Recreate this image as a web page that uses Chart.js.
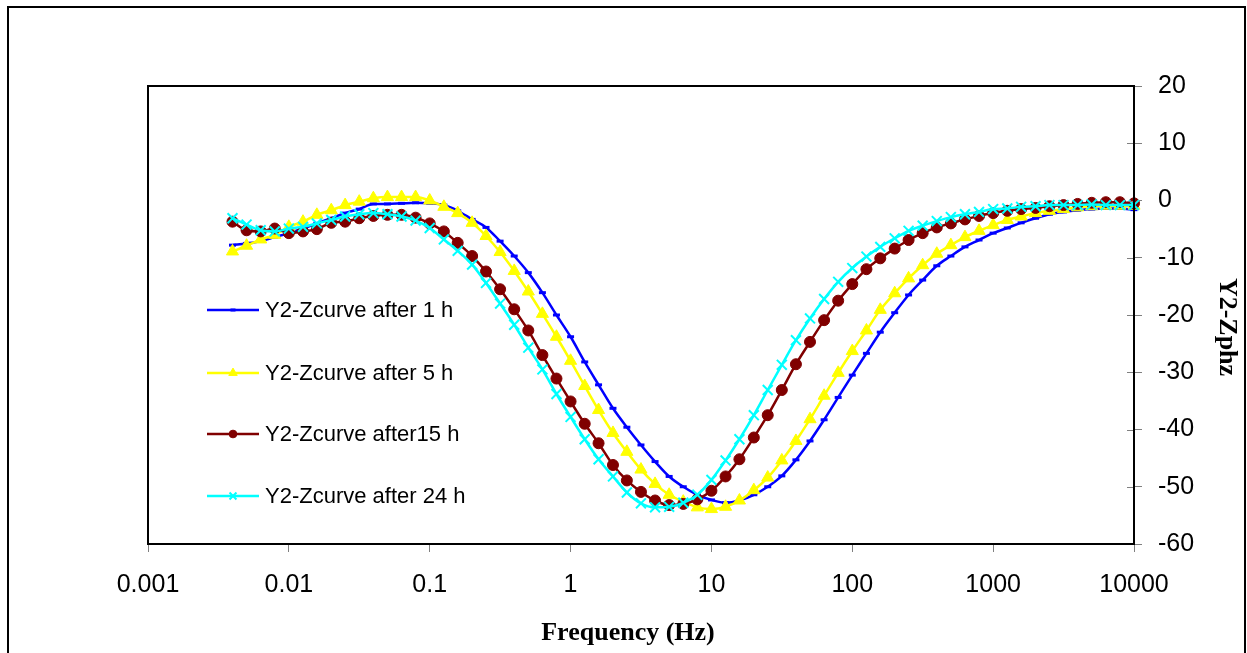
<!DOCTYPE html>
<html><head><meta charset="utf-8">
<script src="https://cdn.jsdelivr.net/npm/chart.js@4/dist/chart.umd.min.js"></script>
<style>html,body{margin:0;padding:0;background:#fff;overflow:hidden}#wrap{width:1247px;height:653px;position:relative}</style>
</head><body><div id="wrap"><canvas id="c" width="1247" height="653"></canvas></div>
<script>
const frequencies = [0.00398,0.00501,0.00631,0.00794,0.01,0.0126,0.0158,0.02,0.0251,0.0316,0.0398,0.0501,0.0631,0.0794,0.1,0.126,0.158,0.2,0.251,0.316,0.398,0.501,0.631,0.794,1,1.26,1.58,2,2.51,3.16,3.98,5.01,6.31,7.94,10,12.6,15.8,20,25.1,31.6,39.8,50.1,63.1,79.4,100,126,158,200,251,316,398,501,631,794,1000,1260,1580,2000,2510,3160,3980,5010,6310,7940,10000];
const after1h = [-7.8,-7.5,-7.1,-6.4,-5.7,-4.9,-4.0,-3.1,-2.2,-1.5,-0.6,-0.6,-0.5,-0.4,-0.5,-0.8,-1.8,-3.3,-4.7,-7.1,-9.7,-12.6,-16.1,-20.0,-23.8,-28.2,-32.2,-36.3,-39.6,-42.7,-45.6,-48.2,-50.0,-51.4,-52.3,-52.8,-52.4,-51.4,-50.0,-48.1,-45.3,-42.0,-38.3,-34.4,-30.5,-26.7,-23.0,-19.6,-16.5,-13.9,-11.4,-9.7,-8.1,-6.9,-5.7,-4.8,-3.9,-3.1,-2.4,-2.0,-1.7,-1.5,-1.4,-1.4,-1.6];
const after5h = [-8.9,-7.9,-6.8,-6.0,-4.6,-3.7,-2.5,-1.7,-0.8,-0.2,0.4,0.6,0.6,0.6,0.0,-1.1,-2.2,-3.9,-6.2,-9.0,-12.3,-15.9,-19.8,-23.8,-28.0,-32.4,-36.6,-40.6,-43.9,-47.0,-49.5,-51.4,-52.6,-53.6,-53.9,-53.5,-52.4,-50.6,-48.4,-45.4,-42.0,-38.2,-34.1,-30.1,-26.3,-22.7,-19.1,-16.2,-13.6,-11.3,-9.3,-7.8,-6.4,-5.3,-4.3,-3.4,-2.8,-2.2,-1.8,-1.5,-1.2,-1.0,-0.9,-0.9,-0.9];
const after15h = [-3.7,-5.2,-5.4,-4.9,-5.7,-5.4,-5.0,-3.9,-3.7,-3.1,-2.7,-2.5,-2.5,-3.0,-4.0,-5.4,-7.4,-9.7,-12.4,-15.5,-19.0,-22.7,-27.0,-31.1,-35.1,-39.0,-42.4,-46.2,-48.9,-50.9,-52.4,-53.2,-53.0,-52.2,-50.7,-48.2,-45.2,-41.4,-37.5,-33.1,-28.6,-24.7,-20.9,-17.5,-14.6,-12.0,-10.1,-8.4,-6.9,-5.7,-4.7,-4.0,-3.3,-2.7,-2.2,-1.8,-1.5,-1.3,-1.0,-0.8,-0.6,-0.4,-0.3,-0.3,-0.5];
const after24h = [-3.1,-4.2,-5.2,-5.4,-4.9,-4.6,-4.0,-3.4,-2.8,-2.4,-2.2,-2.4,-2.8,-3.5,-4.8,-6.8,-8.8,-11.2,-14.4,-18.0,-21.7,-25.7,-29.5,-33.8,-37.8,-41.7,-45.2,-48.2,-51.0,-52.9,-53.6,-53.5,-52.8,-51.4,-48.8,-45.4,-41.7,-37.5,-33.1,-28.7,-24.4,-20.6,-17.2,-14.2,-11.8,-9.8,-8.1,-6.6,-5.3,-4.4,-3.6,-2.9,-2.4,-2.0,-1.5,-1.4,-1.1,-1.0,-0.8,-0.8,-0.8,-0.7,-0.8,-0.8,-0.8];
const seriesLabels = ['Y2-Zcurve after 1 h','Y2-Zcurve after 5 h','Y2-Zcurve after15 h','Y2-Zcurve after 24 h'];
const xTickValues = [0.001,0.01,0.1,1,10,100,1000,10000];
const xTickLabels = ['0.001','0.01','0.1','1','10','100','1000','10000'];
const yTickValues = [-60,-50,-40,-30,-20,-10,0,10,20];
const xAxisTitle = 'Frequency (Hz)';
const yAxisTitle = 'Y2-Zphz';

const SANS = "'Liberation Sans', Arial, Helvetica, sans-serif";
const SERIF = "'Liberation Serif', 'Times New Roman', serif";

function pts(ys){ return frequencies.map((f,i)=>({x:f,y:ys[i]})); }

const styles = [
  {color:'#0000FF', pointStyle:'line', radius:3.5, bw:3, order:3, fill:'#0000FF'},
  {color:'#FFFF00', pointStyle:'triangle', radius:7, bw:1, order:2, fill:'#FFFF00'},
  {color:'#800000', pointStyle:'circle', radius:5.5, bw:1, order:1, fill:'#800000'},
  {color:'#00FFFF', pointStyle:'crossRot', radius:7, bw:2, order:0, fill:'#00FFFF'}
];
const allSeries = [after1h, after5h, after15h, after24h];

const datasets = allSeries.map((s,k)=>({
  label: seriesLabels[k],
  data: pts(s),
  borderColor: styles[k].color,
  backgroundColor: styles[k].fill,
  borderWidth: 2.5,
  pointStyle: styles[k].pointStyle,
  pointRadius: styles[k].radius,
  pointBorderWidth: styles[k].bw,
  pointBorderColor: styles[k].color,
  pointBackgroundColor: styles[k].fill,
  cubicInterpolationMode: 'monotone',
  order: styles[k].order,
  clip: 12
}));

const framePlugin = {
  id: 'framePlugin',
  beforeDraw(chart){
    const ctx = chart.ctx;
    ctx.save();
    ctx.fillStyle = '#fff';
    ctx.fillRect(0,0,chart.width,chart.height);
    ctx.strokeStyle = '#000';
    ctx.lineWidth = 2;
    ctx.strokeRect(8,7,1237,680);
    ctx.restore();
  },
  afterDraw(chart){
    const ctx = chart.ctx, a = chart.chartArea, ys = chart.scales.y;
    ctx.save();
    // inner tick halves on right axis
    ctx.strokeStyle = '#808080'; ctx.lineWidth = 1;
    yTickValues.forEach(v=>{
      const py = Math.round(ys.getPixelForValue(v))+0.5;
      ctx.beginPath(); ctx.moveTo(a.right-7, py); ctx.lineTo(a.right, py); ctx.stroke();
    });
    // plot border
    ctx.strokeStyle = '#000'; ctx.lineWidth = 2;
    ctx.strokeRect(a.left, a.top, a.right-a.left, a.bottom-a.top);
    // axis titles
    ctx.fillStyle = '#000';
    ctx.font = 'bold 26px ' + SERIF;
    ctx.textAlign = 'center'; ctx.textBaseline = 'middle';
    ctx.fillText(xAxisTitle, 628, 633);
    ctx.save();
    ctx.translate(1227, 327);
    ctx.rotate(Math.PI/2);
    ctx.fillText(yAxisTitle, 0, 0);
    ctx.restore();
    // legend
    const lx0 = 207, lx1 = 259, tx = 265, ly = [310, 373, 434, 496];
    chart.data.datasets.forEach((ds,k)=>{
      const y = ly[k];
      ctx.strokeStyle = ds.borderColor; ctx.lineWidth = 2.5;
      ctx.beginPath(); ctx.moveTo(lx0,y); ctx.lineTo(lx1,y); ctx.stroke();
      ctx.fillStyle = ds.pointBackgroundColor; ctx.strokeStyle = ds.pointBorderColor;
      ctx.lineWidth = ds.pointBorderWidth;
      Chart.helpers.drawPoint(ctx, {pointStyle: ds.pointStyle, radius: ds.pointStyle==='line'?2.5:Math.max(3, ds.pointRadius*0.7), rotation:0, borderWidth: ds.pointBorderWidth}, (lx0+lx1)/2, y);
      ctx.fillStyle = '#000';
      ctx.font = '22px ' + SANS;
      ctx.textBaseline = 'middle'; ctx.textAlign = 'left';
      ctx.fillText(ds.label, tx, y+1);
    });
    ctx.restore();
  }
};

new Chart(document.getElementById('c'), {
  type: 'line',
  data: { datasets },
  options: {
    responsive: false,
    animation: false,
    devicePixelRatio: 1,
    layout: { padding: { left: 148, top: 86, right: 0, bottom: 0 } },
    plugins: { legend: { display: false }, tooltip: { enabled: false }, title: { display: false } },
    scales: {
      x: {
        type: 'logarithmic',
        position: 'bottom',
        min: 0.001, max: 10000,
        afterBuildTicks: (scale)=>{ scale.ticks = xTickValues.map(v=>({value:v, major:true})); },
        afterFit: (scale)=>{ scale.height = 109; },
        ticks: {
          autoSkip: false, maxRotation: 0, minRotation: 0,
          color: '#000', padding: 18,
          font: { family: SANS, size: 25 },
          callback: (v)=>{ const i = xTickValues.indexOf(v); return i>=0 ? xTickLabels[i] : ''; }
        },
        grid: { display: true, drawOnChartArea: false, drawTicks: true, tickLength: 8, color: '#808080' },
        border: { display: true, color: '#000', width: 2 },
        title: { display: false, text: xAxisTitle }
      },
      y: {
        type: 'linear',
        position: 'right',
        min: -60, max: 20,
        afterBuildTicks: (scale)=>{ scale.ticks = yTickValues.map(v=>({value:v})); },
        afterFit: (scale)=>{ scale.width = 113; },
        ticks: { color: '#000', padding: 16, font: { family: SANS, size: 25 }, callback: (v)=>String(v) },
        grid: { display: true, drawOnChartArea: false, drawTicks: true, tickLength: 8, color: '#808080' },
        border: { display: true, color: '#000', width: 2 },
        title: { display: false, text: yAxisTitle }
      }
    }
  },
  plugins: [framePlugin]
});
</script>
</body></html>
